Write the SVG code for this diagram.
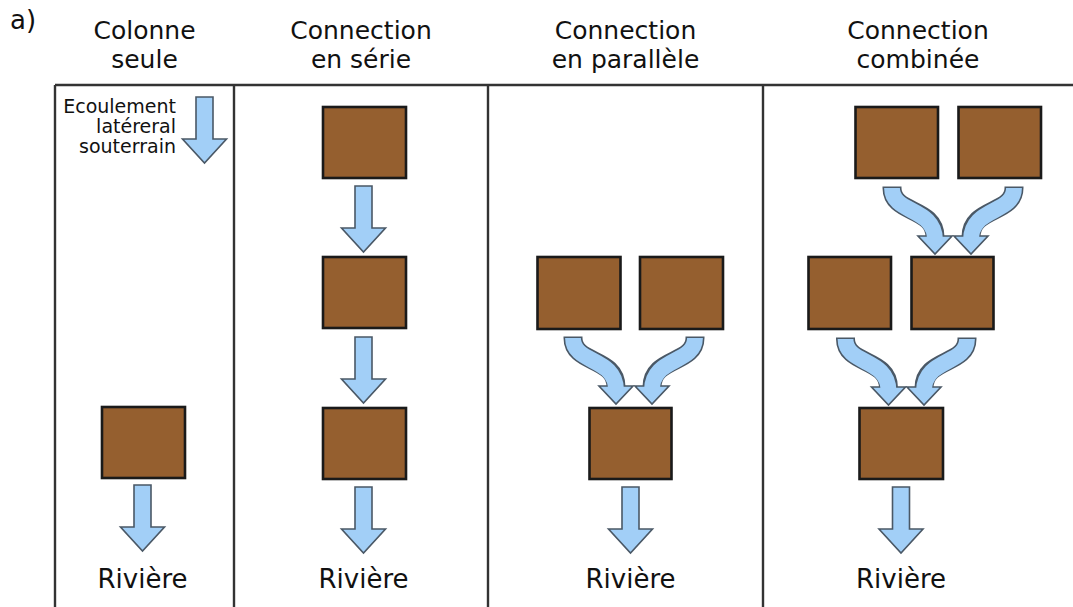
<svg xmlns="http://www.w3.org/2000/svg" xmlns:xlink="http://www.w3.org/1999/xlink" width="1073" height="607" viewBox="0 0 1073 607">
<style>
text{font-family:"DejaVu Sans","Verdana",sans-serif;fill:#111}
.h{font-size:25px;text-anchor:middle}
.r{font-size:26px;text-anchor:middle}
.s{font-size:19px;text-anchor:end}
.frame{stroke:#333;stroke-width:2.4;fill:none}
.box{fill:#955f2f;stroke:#1a1a1a;stroke-width:2.6}
.arr{fill:#a2cff7;stroke:#4a5866;stroke-width:1.6;stroke-linejoin:miter}
</style>
<defs>
<path id="down" class="arr" d="M-8.5,0 L8.5,0 L8.5,42 L22,42 L0,66 L-22,42 L-8.5,42 Z"/>
<g id="curve">
<path d="M0,-1.6 L0,0 C0,26 43,19 43,49" fill="none" stroke="#4a5866" stroke-width="19"/>
<polygon class="arr" points="26,48 60,48 43,66"/>
<path d="M0,0 C0,26 43,19 43,52" fill="none" stroke="#a2cff7" stroke-width="15.8"/>
</g>
</defs>
<rect width="1073" height="607" fill="#fff"/>
<g id="frame">
<path class="frame" d="M55,85 H1073 M55,85 V607 M234,85 V607 M488,85 V607 M763,85 V607"/>
</g>
<g id="labels">
<text x="10" y="29" style="font-size:26px">a)</text>
<text class="h" x="144.5" y="39">Colonne</text>
<text class="h" x="144.5" y="68">seule</text>
<text class="h" x="361" y="39">Connection</text>
<text class="h" x="361" y="68">en série</text>
<text class="h" x="625.5" y="39">Connection</text>
<text class="h" x="625.5" y="68">en parallèle</text>
<text class="h" x="918" y="39">Connection</text>
<text class="h" x="918" y="68">combinée</text>
<text class="s" x="176" y="113">Ecoulement</text>
<text class="s" x="176" y="133">latéreral</text>
<text class="s" x="176" y="153">souterrain</text>
<text class="r" x="142.5" y="588">Rivière</text>
<text class="r" x="363.5" y="588">Rivière</text>
<text class="r" x="630.5" y="588">Rivière</text>
<text class="r" x="901" y="588">Rivière</text>
</g>
<g id="node-col1"><rect class="box" x="102" y="407" width="83" height="71"/></g>
<g id="node-col2-1"><rect class="box" x="323" y="107" width="83" height="71"/></g>
<g id="node-col2-2"><rect class="box" x="323" y="257" width="83" height="71"/></g>
<g id="node-col2-3"><rect class="box" x="323" y="408" width="83" height="71"/></g>
<g id="node-col3-l"><rect class="box" x="537.5" y="257" width="83" height="72"/></g>
<g id="node-col3-r"><rect class="box" x="640" y="257" width="83" height="72"/></g>
<g id="node-col3-b"><rect class="box" x="589.5" y="408" width="82" height="71"/></g>
<g id="node-col4-tl"><rect class="box" x="855.5" y="107" width="82.5" height="71"/></g>
<g id="node-col4-tr"><rect class="box" x="958.5" y="107" width="82.5" height="71"/></g>
<g id="node-col4-ml"><rect class="box" x="808.5" y="257" width="82.5" height="72"/></g>
<g id="node-col4-mr"><rect class="box" x="911.5" y="257" width="82" height="72"/></g>
<g id="node-col4-b"><rect class="box" x="859.5" y="408" width="83.5" height="71"/></g>
<g id="connectors">
<use xlink:href="#down" transform="translate(204.5,97)"/>
<use xlink:href="#down" transform="translate(142.5,485)"/>
<use xlink:href="#down" transform="translate(363.5,186)"/>
<use xlink:href="#down" transform="translate(363.5,337)"/>
<use xlink:href="#down" transform="translate(363.5,487)"/>
<use xlink:href="#down" transform="translate(630.5,487)"/>
<use xlink:href="#down" transform="translate(901,487)"/>
<use xlink:href="#curve" transform="translate(573,338)"/>
<use xlink:href="#curve" transform="translate(695,338) scale(-1,1)"/>
<use xlink:href="#curve" transform="translate(892,188)"/>
<use xlink:href="#curve" transform="translate(1014,188) scale(-1,1)"/>
<use xlink:href="#curve" transform="translate(845.5,339)"/>
<use xlink:href="#curve" transform="translate(967,339) scale(-1,1)"/>
</g>
</svg>
